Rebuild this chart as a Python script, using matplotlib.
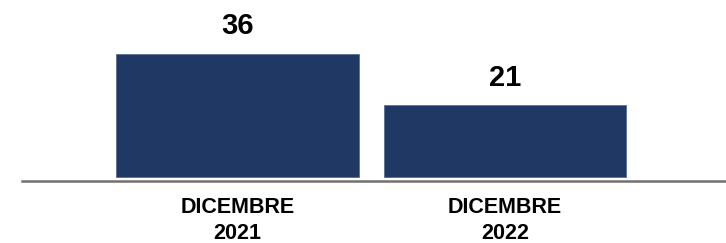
import matplotlib
matplotlib.use("Agg")
import matplotlib.pyplot as plt


periodos = ["DICEMBRE\n2021", "DICEMBRE\n2022"]
valores = [36, 21]

COLOR_BARRA = "#203864"
COLOR_EJE = "#707070"


def main():
    plt.rcParams["font.family"] = ["Liberation Sans", "DejaVu Sans"]

    fig = plt.figure(figsize=(7.26, 2.43), dpi=100)
    ax = fig.add_axes([0.0303, 0.254, 0.9697, 0.746])

    posiciones = list(range(len(valores)))
    barras = ax.bar(posiciones, valores, width=0.908, color=COLOR_BARRA,
                    edgecolor="#5a6f96", linewidth=0.6)

    for barra, valor in zip(barras, valores):
        ax.annotate(str(valor),
                    (barra.get_x() + barra.get_width() / 2, barra.get_height()),
                    xytext=(0, 14), textcoords="offset points",
                    ha="center", va="baseline", fontsize=21, fontweight="bold")

    ax.set_xlim(-0.806, 1.826)
    ax.set_ylim(-1.35, 51.8)
    ax.set_xticks(posiciones)
    ax.set_xticklabels(periodos, fontsize=15.5, fontweight="bold", linespacing=1.3)
    ax.tick_params(axis="x", length=0, pad=11.5)
    ax.set_yticks([])

    for lado in ["top", "right", "left"]:
        ax.spines[lado].set_visible(False)
    ax.spines["bottom"].set_color(COLOR_EJE)
    ax.spines["bottom"].set_linewidth(1.8)

    fig.savefig("out.png", dpi=100)


if __name__ == "__main__":
    main()
